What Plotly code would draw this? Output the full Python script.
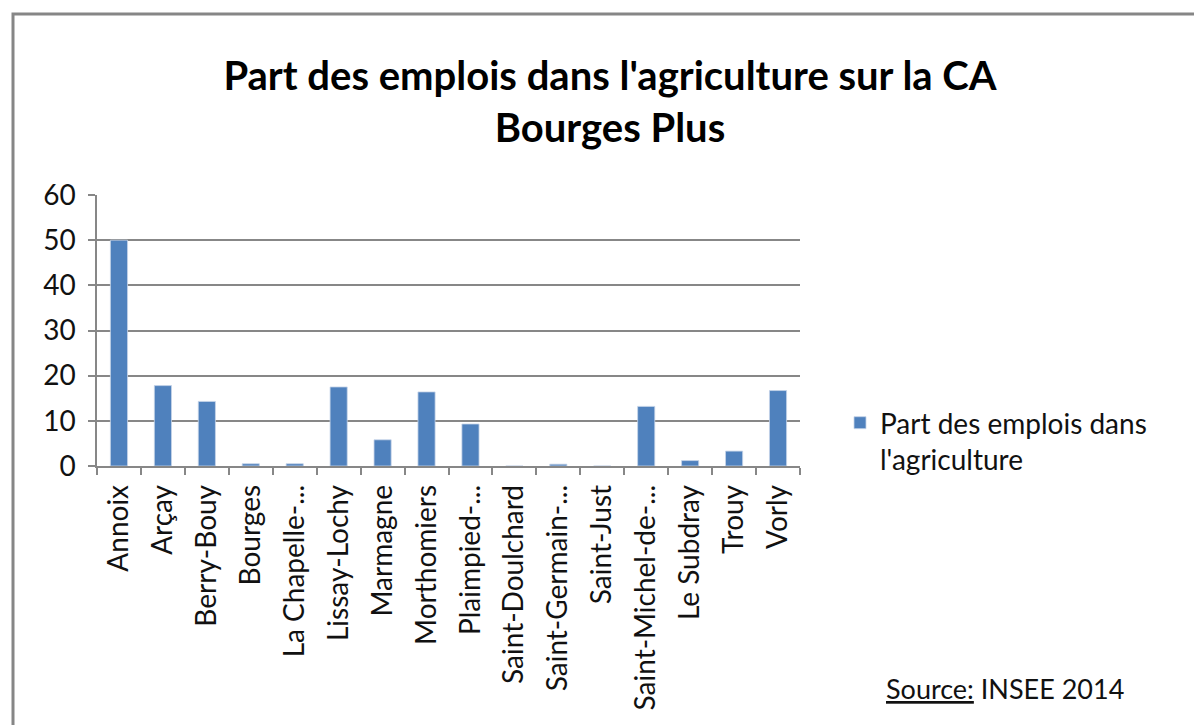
import plotly.graph_objects as go

communes = ["Annoix", "Arçay", "Berry-Bouy", "Bourges", "La Chapelle-...",
            "Lissay-Lochy", "Marmagne", "Morthomiers", "Plaimpied-...",
            "Saint-Doulchard", "Saint-Germain-...", "Saint-Just",
            "Saint-Michel-de-...", "Le Subdray", "Trouy", "Vorly"]
part_agri = [50, 17.8, 14.3, 0.5, 0.5, 17.5, 5.8, 16.4, 9.3,
             0, 0.4, 0, 13.2, 1.2, 3.3, 16.7]
y_ticks = [0, 10, 20, 30, 40, 50, 60]

W, H = 1194, 725
L, R, T, B = 97, 394, 195, 259
pw, ph = W - L - R, H - T - B

def px_x(x):
    return (x - L) / pw

def px_y(y):
    return (H - B - y) / ph

FONT = "Lato"
GRID = "#878787"

fig = go.Figure()
fig.add_trace(go.Bar(
    x=communes, y=part_agri,
    name="Part des emplois dans<br>l'agriculture",
    marker=dict(color="#4F81BD", line=dict(color="#C6D4E8", width=0.8)),
    width=0.39,
    showlegend=True,
))

fig.update_layout(
    width=W, height=H,
    margin=dict(l=L, r=R, t=T, b=B, autoexpand=False),
    paper_bgcolor="white", plot_bgcolor="white",
    font=dict(family=FONT, color="#111111"),
    title=dict(
        text="<b>Part des emplois dans l'agriculture sur la CA<br>Bourges Plus</b>",
        x=610 / W, xanchor="center",
        y=1 - 90 / H, yanchor="middle", yref="container",
        font=dict(family=FONT, size=40, color="#000000"),
    ),
    xaxis=dict(
        type="category", tickangle=-90,
        tickson="boundaries", ticks="outside", ticklen=7, tickcolor=GRID, tickwidth=1.5,
        showline=True, linecolor=GRID, linewidth=1.5,
        showgrid=False,
        tickfont=dict(family=FONT, size=28, color="#111111"),
        ticklabelstandoff=6,
    ),
    yaxis=dict(
        range=[0, 60], tickvals=y_ticks,
        ticks="outside", ticklen=7, tickcolor=GRID, tickwidth=1.5,
        showline=True, linecolor=GRID, linewidth=1.5,
        showgrid=True, gridcolor=GRID, gridwidth=1.5,
        zeroline=False,
        tickfont=dict(family=FONT, size=28, color="#111111"),
        ticklabelstandoff=7,
    ),
    legend=dict(
        x=px_x(840), xanchor="left",
        y=px_y(398), yanchor="top",
        valign="top",
        font=dict(family=FONT, size=28, color="#111111"),
        bgcolor="rgba(0,0,0,0)",
    ),
    shapes=[dict(
        type="rect", xref="paper", yref="paper",
        x0=px_x(13), x1=px_x(1210), y0=px_y(740), y1=px_y(14),
        line=dict(color="#868686", width=3), fillcolor="rgba(0,0,0,0)",
        layer="below",
    )],
    annotations=[dict(
        text="<u>Source:</u> INSEE 2014",
        xref="paper", yref="paper",
        x=px_x(884), xanchor="left",
        y=px_y(688), yanchor="middle",
        showarrow=False,
        font=dict(family=FONT, size=27, color="#111111"),
    )],
)

fig.write_html("out.html", config={"displayModeBar": False},
               post_script="document.body.style.margin='0';")
